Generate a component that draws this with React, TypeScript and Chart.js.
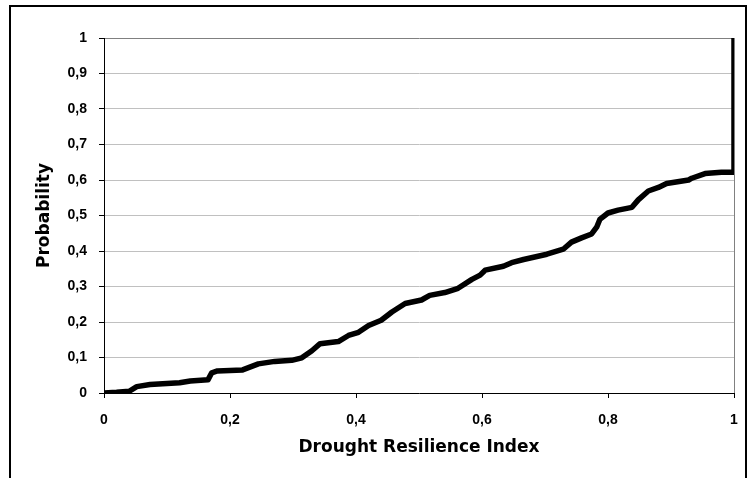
import { useEffect, useRef } from "react";
import { Chart, registerables } from "chart.js";

Chart.register(...registerables);

// Drought Resilience Index (x) and cumulative probability (y)
const resilienceIndex = [
  0, 0.02, 0.04, 0.052, 0.073, 0.12, 0.137, 0.165, 0.171, 0.18, 0.22, 0.245, 0.271, 0.298, 0.314,
  0.33, 0.343, 0.372, 0.388, 0.404, 0.42, 0.44, 0.457, 0.478, 0.504, 0.517, 0.541, 0.562, 0.584,
  0.597, 0.605, 0.634, 0.647, 0.666, 0.703, 0.729, 0.742, 0.758, 0.774, 0.782, 0.787, 0.8, 0.816,
  0.838, 0.848, 0.864, 0.88, 0.893, 0.928, 0.933, 0.954, 0.98, 1, 1,
];
const probability = [
  0, 0.002, 0.005, 0.018, 0.024, 0.029, 0.034, 0.037, 0.057, 0.062, 0.065, 0.082, 0.089, 0.092, 0.099,
  0.119, 0.139, 0.145, 0.162, 0.171, 0.19, 0.205, 0.228, 0.252, 0.262, 0.275, 0.283, 0.295, 0.32,
  0.332, 0.346, 0.357, 0.367, 0.376, 0.391, 0.405, 0.425, 0.437, 0.448, 0.467, 0.489, 0.507, 0.515,
  0.523, 0.544, 0.569, 0.579, 0.59, 0.6, 0.605, 0.618, 0.622, 0.622, 1,
];

const xAxisTitle = "Drought Resilience Index";
const yAxisTitle = "Probability";

const TICK_FONT = "'Liberation Sans', Arial, sans-serif";
const TITLE_FONT = "'DejaVu Sans', 'Liberation Sans', sans-serif";

function fmt(v: number): string {
  const r = Math.round(v * 10) / 10;
  if (r === 0) return "0";
  if (r === 1) return "1";
  return r.toFixed(1).replace(".", ",");
}

export default function App() {
  const ref = useRef<HTMLCanvasElement | null>(null);

  useEffect(() => {
    if (!ref.current) return;
    const points = resilienceIndex.map((x, i) => ({ x, y: probability[i] }));
    const chart = new Chart(ref.current, {
      type: "line",
      data: {
        datasets: [
          {
            data: points,
            borderColor: "#000",
            borderWidth: 5.5,
            pointRadius: 0,
            fill: false,
            tension: 0,
            borderJoinStyle: "round",
          },
        ],
      },
      options: {
        animation: false,
        responsive: false,
        devicePixelRatio: 1,
        layout: { padding: { left: 0, top: 38, right: 18, bottom: 0 } },
        plugins: { legend: { display: false }, tooltip: { enabled: false } },
        scales: {
          x: {
            type: "linear",
            min: 0,
            max: 1,
            afterFit: (s: any) => {
              s.height = 85;
            },
            ticks: {
              stepSize: 0.2,
              callback: (v: any) => fmt(Number(v)),
              color: "#000",
              font: { family: TICK_FONT, size: 14, weight: "bold" },
              padding: 14,
              maxRotation: 0,
            },
            grid: {
              drawOnChartArea: true,
              color: (c: any) => (c.tick && c.tick.value === 1 ? "#808080" : "rgba(0,0,0,0)"),
              tickColor: "#000",
              tickLength: 5,
              lineWidth: 1,
            },
            border: { color: "#000", width: 1 },
            title: {
              display: true,
              text: xAxisTitle,
              color: "#000",
              font: { family: TITLE_FONT, size: 17, weight: "bold" },
              padding: { top: 0, bottom: 20 },
            },
          },
          y: {
            type: "linear",
            min: 0,
            max: 1,
            afterFit: (s: any) => {
              s.width = 104;
            },
            ticks: {
              stepSize: 0.1,
              callback: (v: any) => fmt(Number(v)),
              color: "#000",
              font: { family: TICK_FONT, size: 14, weight: "bold" },
              padding: 12,
            },
            grid: {
              color: (c: any) => (c.tick && Math.round(c.tick.value * 10) === 10 ? "#808080" : "#c0c0c0"),
              tickColor: "#000",
              tickLength: 5,
              lineWidth: 1,
            },
            border: { color: "#000", width: 1 },
            title: {
              display: true,
              text: yAxisTitle,
              color: "#000",
              font: { family: TITLE_FONT, size: 17, weight: "bold" },
              padding: { top: 34, bottom: 0 },
            },
          },
        },
      },
    });
    return () => chart.destroy();
  }, []);

  return (
    <div style={{ position: "absolute", left: 0, top: 0, width: 752, height: 478, overflow: "hidden", background: "#fff" }}>
      <canvas ref={ref} width={752} height={478} style={{ position: "absolute", left: 0, top: 0 }} />
      <div
        style={{
          position: "absolute",
          left: 9,
          top: 5,
          width: 738,
          height: 500,
          border: "2px solid #000",
          boxSizing: "border-box",
          pointerEvents: "none",
        }}
      />
    </div>
  );
}
